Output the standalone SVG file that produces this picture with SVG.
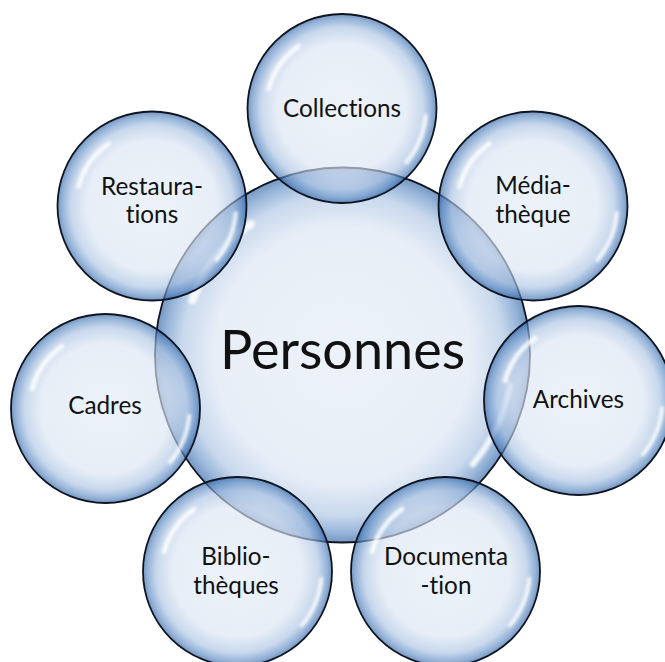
<svg xmlns="http://www.w3.org/2000/svg" xmlns:xlink="http://www.w3.org/1999/xlink" width="665" height="662" viewBox="0 0 665 662">
<style>
.fill{fill:url(#grad);fill-opacity:0.64}
.rim{fill:none;stroke:#0e1420;stroke-width:1.8}
.hl{fill:none;stroke:#ffffff;stroke-linecap:round;stroke-opacity:0.85;filter:url(#blur)}
.lbl{font-family:Lato,"Noto Sans","Liberation Sans",sans-serif;font-size:24.3px;fill:#111111;text-anchor:middle;font-variant-ligatures:none;font-feature-settings:"liga" 0}
.big{font-size:54px}
</style>
<defs>
<radialGradient id="grad" cx="50%" cy="50%" r="50%">
<stop offset="0" stop-color="#e2ebf6"/>
<stop offset="0.68" stop-color="#dbe5f3"/>
<stop offset="0.86" stop-color="#a9c2e2"/>
<stop offset="0.95" stop-color="#5a89c2"/>
<stop offset="1" stop-color="#285c9e"/>
</radialGradient>
<filter id="blur" x="-20%" y="-20%" width="140%" height="140%"><feGaussianBlur stdDeviation="1.8"/></filter>
<g id="small">
<circle class="fill" r="94.5"/>
<path class="hl" stroke-width="5" d="M -73.4 -19.7 A 76 76 0 0 1 -43.6 -62.3"/>
<path class="hl" stroke-width="4" d="M 83.7 7.3 A 84 84 0 0 1 64.3 54"/>
<circle class="rim" r="94.5"/>
</g>
</defs>
<g id="node-personnes">
<circle class="fill" cx="342.5" cy="355" r="187.5"/>
<path class="hl" stroke-width="8" d="M 192.4 300.3 A 160 160 0 0 1 250.7 223.9"/>
<path class="hl" stroke-width="6" d="M 509.9 384.5 A 170 170 0 0 1 472.7 464.3"/>
<circle class="rim" cx="342.5" cy="355" r="187.5"/>
<text class="lbl big" x="342.5" y="369">Personnes</text>
</g>
<g id="node-collections">
<use xlink:href="#small" x="342" y="108.5"/>
<text class="lbl" x="342" y="117">Collections</text>
</g>
<g id="node-mediatheque">
<use xlink:href="#small" x="533" y="206"/>
<text class="lbl"><tspan x="533" y="194">Média-</tspan><tspan x="533" y="223">thèque</tspan></text>
</g>
<g id="node-archives">
<use xlink:href="#small" x="578.5" y="400.5"/>
<text class="lbl" x="578.5" y="408">Archives</text>
</g>
<g id="node-documentation">
<use xlink:href="#small" x="445.5" y="571.5"/>
<text class="lbl"><tspan x="446" y="565">Documenta</tspan><tspan x="446" y="594">-tion</tspan></text>
</g>
<g id="node-bibliotheques">
<use xlink:href="#small" x="237.5" y="571.5"/>
<text class="lbl"><tspan x="236" y="565">Biblio-</tspan><tspan x="236" y="594">thèques</tspan></text>
</g>
<g id="node-cadres">
<use xlink:href="#small" x="105.5" y="408.5"/>
<text class="lbl" x="105" y="414">Cadres</text>
</g>
<g id="node-restaurations">
<use xlink:href="#small" x="152" y="206"/>
<text class="lbl"><tspan x="152" y="195">Restaura-</tspan><tspan x="152" y="223">tions</tspan></text>
</g>
</svg>
